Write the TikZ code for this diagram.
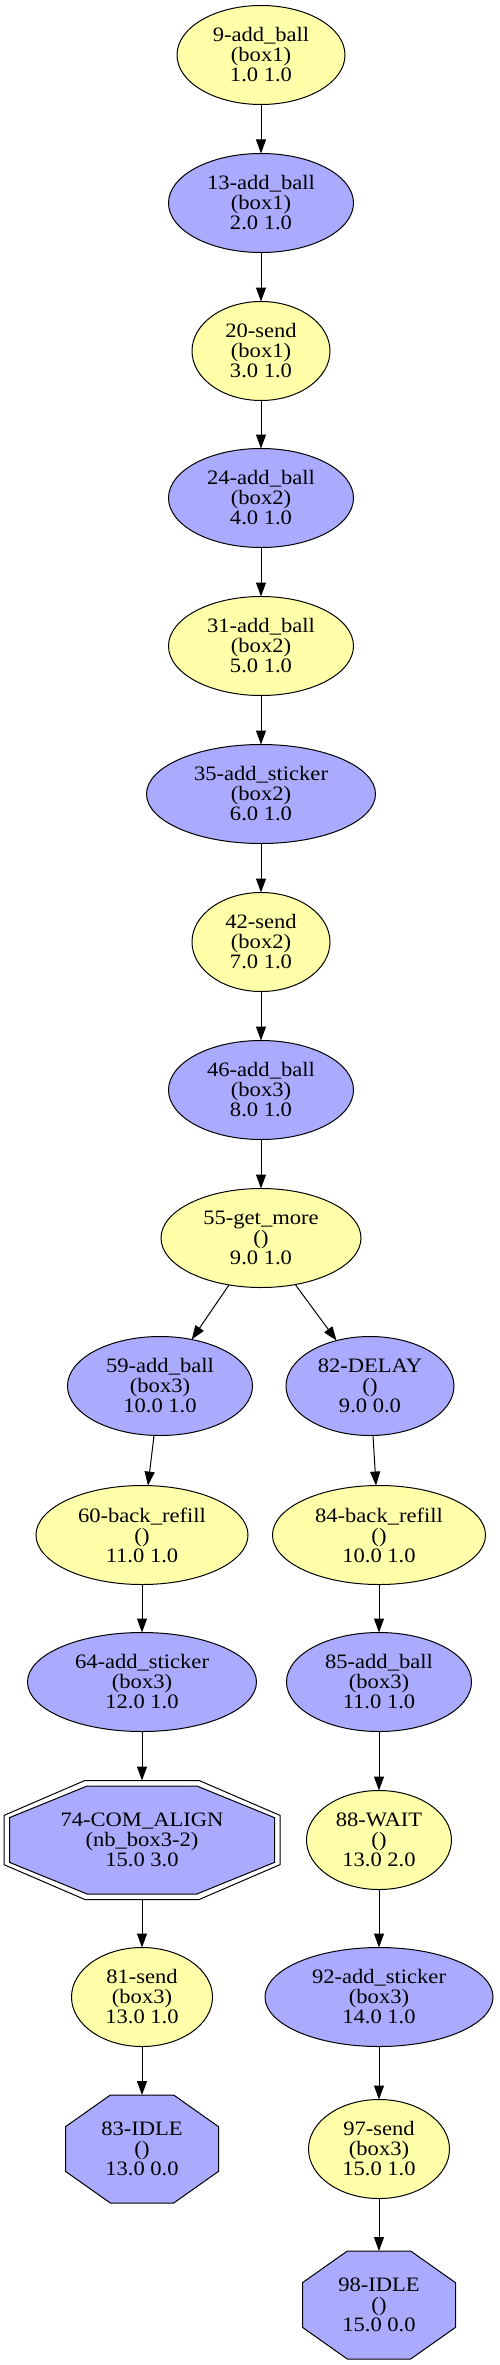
\documentclass[tikz,border=0pt]{standalone}
\usepackage{fontspec}
\setmainfont[FakeStretch=1.1]{Liberation Serif}
\usetikzlibrary{shapes.geometric,arrows.meta,calc}
\definecolor{ylw}{HTML}{FFFFAA}
\definecolor{blu}{HTML}{AAAAFF}
\tikzset{
 lbl/.style={font=\fontsize{20.5}{20}\selectfont, align=center, text=black},
 ell/.style={lbl, ellipse, draw=black, line width=1pt, inner sep=0pt, outer sep=0pt, minimum height=99pt},
 yel/.style={ell, fill=ylw},
 bel/.style={ell, fill=blu},
 octbox/.style={lbl, rectangle, draw=none, inner sep=0pt, outer sep=0pt},
 octline/.style={draw=black, line width=1pt, line join=miter},
 edge/.style={draw=black, line width=1pt, -{Triangle[length=14pt,width=10pt]}},
}
\newcommand\octa[4]{%
  \path[#4] ($#1+(#2,{0.414*#3})$) -- ($#1+({0.414*#2},#3)$) -- ($#1+({-0.414*#2},#3)$) -- ($#1+(-#2,{0.414*#3})$) -- ($#1+(-#2,{-0.414*#3})$) -- ($#1+({-0.414*#2},-#3)$) -- ($#1+({0.414*#2},-#3)$) -- ($#1+(#2,{-0.414*#3})$) -- cycle;}
\begin{document}
\begin{tikzpicture}[x=1pt,y=-1pt]
\useasboundingbox (0,0) rectangle (499,2365);
\fill[white] (0,0) rectangle (499,2365);
% octagon outlines
\octa{(142,1840)}{138}{59.5}{octline}
\octa{(142,1840)}{132.5}{54}{octline,fill=blu}
\octa{(142,2149)}{76.5}{54}{octline,fill=blu}
\octa{(379,2305)}{76.5}{54}{octline,fill=blu}
% nodes
\node[yel, minimum width=168pt] (n9) at (261,55) {9-add\_ball\\(box1)\\1.0 1.0};
\node[bel, minimum width=185pt] (n13) at (261,203) {13-add\_ball\\(box1)\\2.0 1.0};
\node[yel, minimum width=138pt] (n20) at (261,351) {20-send\\(box1)\\3.0 1.0};
\node[bel, minimum width=185pt] (n24) at (261,498) {24-add\_ball\\(box2)\\4.0 1.0};
\node[yel, minimum width=185pt] (n31) at (261,646) {31-add\_ball\\(box2)\\5.0 1.0};
\node[bel, minimum width=229pt] (n35) at (261,794) {35-add\_sticker\\(box2)\\6.0 1.0};
\node[yel, minimum width=138pt] (n42) at (261,942) {42-send\\(box2)\\7.0 1.0};
\node[bel, minimum width=185pt] (n46) at (261,1090) {46-add\_ball\\(box3)\\8.0 1.0};
\node[yel, minimum width=200pt] (n55) at (261,1238) {55-get\_more\\()\\9.0 1.0};
\node[bel, minimum width=185pt] (n59) at (160,1386) {59-add\_ball\\(box3)\\10.0 1.0};
\node[bel, minimum width=168pt] (n82) at (370,1386) {82-DELAY\\()\\9.0 0.0};
\node[yel, minimum width=212pt] (n60) at (142,1535) {60-back\_refill\\()\\11.0 1.0};
\node[yel, minimum width=213pt] (n84) at (379,1535) {84-back\_refill\\()\\10.0 1.0};
\node[bel, minimum width=229pt] (n64) at (142,1682) {64-add\_sticker\\(box3)\\12.0 1.0};
\node[bel, minimum width=185pt] (n85) at (379,1682) {85-add\_ball\\(box3)\\11.0 1.0};
\node[octbox, minimum width=276pt, minimum height=119pt] (n74) at (142,1840) {74-COM\_ALIGN\\(nb\_box3-2)\\15.0 3.0};
\node[yel, minimum width=145pt] (n88) at (379,1840) {88-WAIT\\()\\13.0 2.0};
\node[yel, minimum width=141pt] (n81) at (142,1997) {81-send\\(box3)\\13.0 1.0};
\node[bel, minimum width=228pt] (n92) at (379,1997) {92-add\_sticker\\(box3)\\14.0 1.0};
\node[octbox, minimum width=153pt, minimum height=108pt] (n83) at (142,2149) {83-IDLE\\()\\13.0 0.0};
\node[yel, minimum width=141pt] (n97) at (379,2149) {97-send\\(box3)\\15.0 1.0};
\node[octbox, minimum width=153pt, minimum height=108pt] (n98) at (379,2305) {98-IDLE\\()\\15.0 0.0};
% edges
\draw[edge] (n9) -- (n13);
\draw[edge] (n13) -- (n20);
\draw[edge] (n20) -- (n24);
\draw[edge] (n24) -- (n31);
\draw[edge] (n31) -- (n35);
\draw[edge] (n35) -- (n42);
\draw[edge] (n42) -- (n46);
\draw[edge] (n46) -- (n55);
\draw[edge] (n55) -- (n59);
\draw[edge] (n55) -- (n82);
\draw[edge] (n59) -- (n60);
\draw[edge] (n60) -- (n64);
\draw[edge] (n64) -- (n74);
\draw[edge] (n74) -- (n81);
\draw[edge] (n81) -- (n83);
\draw[edge] (n82) -- (n84);
\draw[edge] (n84) -- (n85);
\draw[edge] (n85) -- (n88);
\draw[edge] (n88) -- (n92);
\draw[edge] (n92) -- (n97);
\draw[edge] (n97) -- (n98);
\end{tikzpicture}
\end{document}
